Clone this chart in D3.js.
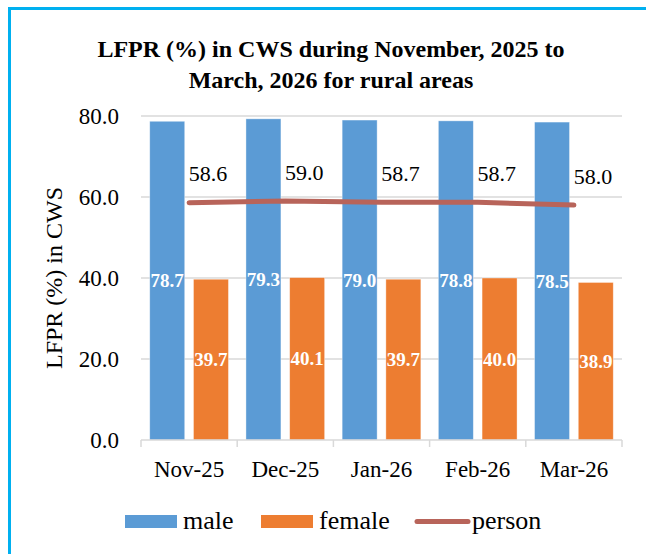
<!DOCTYPE html>
<html>
<head>
<meta charset="utf-8">
<script src="https://cdn.jsdelivr.net/npm/d3@7"></script>
<style>
  html, body { margin: 0; padding: 0; background: #fff; }
  svg { display: block; }
  svg text { font-family: "Liberation Serif", "Times New Roman", Tinos, "DejaVu Serif", serif !important; }
</style>
</head>
<body>
<script>
const categories = ["Nov-25", "Dec-25", "Jan-26", "Feb-26", "Mar-26"];
const maleValues = [78.7, 79.3, 79.0, 78.8, 78.5];
const femaleValues = [39.7, 40.1, 39.7, 40.0, 38.9];
const personValues = [58.6, 59.0, 58.7, 58.7, 58.0];
const yTicks = [0, 20, 40, 60, 80];
const seriesNames = ["male", "female", "person"];
const titleLines = ["LFPR (%) in CWS during November, 2025 to", "March, 2026 for rural areas"];
const yAxisTitle = "LFPR (%) in CWS";

const W = 646, H = 554;
const FONT = '"Liberation Serif", "Times New Roman", Tinos, "DejaVu Serif", serif';
const colors = { male: "#5b9bd5", female: "#ed7d31", person: "#b8645a" };

const svg = d3.select("body").append("svg").attr("width", W).attr("height", H)
  .attr("font-family", FONT);

// border
svg.append("rect").attr("x", 9.5).attr("y", 8.5).attr("width", W).attr("height", H)
  .attr("fill", "none").attr("stroke", "#00b0f0").attr("stroke-width", 3);

// title
svg.append("text").attr("x", 331).attr("text-anchor", "middle")
  .attr("font-weight", "bold").attr("font-size", 24).attr("font-family", FONT)
  .selectAll("tspan").data(titleLines).join("tspan")
  .attr("x", 331).attr("y", (d, i) => 57 + i * 31).text(d => d);

const plot = { left: 141, right: 622, top: 116, bottom: 440 };

const y = d3.scaleLinear().domain([0, 80]).range([plot.bottom, plot.top]);
const x0 = d3.scaleBand().domain(categories).range([plot.left, plot.right]).padding(0);
const x1 = d3.scaleBand().domain(["male", "female"]).range([0, x0.bandwidth()])
  .paddingInner(0.2).paddingOuter(0.2);

// gridlines
svg.append("g").selectAll("line").data(yTicks.filter(t => t > 0)).join("line")
  .attr("x1", plot.left).attr("x2", plot.right)
  .attr("y1", d => y(d)).attr("y2", d => y(d))
  .attr("stroke", "#d9d9d9").attr("stroke-width", 1.5);

// y axis labels
const yAxis = d3.axisLeft(y).tickValues(yTicks).tickFormat(d3.format(".1f")).tickSize(0).tickPadding(0);
const gy = svg.append("g").attr("transform", `translate(119,0)`).call(yAxis)
  .attr("font-family", FONT);
gy.select(".domain").remove();
gy.selectAll("text").attr("font-size", 23).attr("fill", "#000");

// y axis title
svg.append("text").attr("transform", `translate(62,${(plot.top + plot.bottom) / 2}) rotate(-90)`)
  .attr("text-anchor", "middle").attr("font-size", 24).attr("fill", "#000").text(yAxisTitle);

// bars
const rows = categories.map((c, i) => ({ cat: c, male: maleValues[i], female: femaleValues[i] }));
const groups = svg.append("g").selectAll("g").data(rows).join("g")
  .attr("transform", d => `translate(${x0(d.cat)},0)`);
groups.selectAll("rect").data(d => ["male", "female"].map(k => ({ key: k, v: d[k] }))).join("rect")
  .attr("x", d => x1(d.key)).attr("width", x1.bandwidth())
  .attr("y", d => y(d.v)).attr("height", d => y(0) - y(d.v))
  .attr("fill", d => colors[d.key]).attr("stroke", "#ffffff").attr("stroke-opacity", 0.5).attr("stroke-width", 0.75);
groups.selectAll("text.val").data(d => ["male", "female"].map(k => ({ key: k, v: d[k] }))).join("text")
  .attr("class", "val")
  .attr("x", d => x1(d.key) + x1.bandwidth() / 2)
  .attr("y", d => y(d.v / 2)).attr("dy", "0.35em")
  .attr("text-anchor", "middle").attr("font-weight", "bold").attr("font-size", 19)
  .attr("fill", "#fff").text(d => d.v.toFixed(1));

// x axis
const xAxisLine = svg.append("g");
xAxisLine.append("line").attr("x1", plot.left).attr("x2", plot.right)
  .attr("y1", plot.bottom).attr("y2", plot.bottom).attr("stroke", "#d9d9d9").attr("stroke-width", 1.5);
const boundaries = categories.map(c => x0(c)).concat([plot.right]);
xAxisLine.selectAll("line.tk").data(boundaries).join("line").attr("class", "tk")
  .attr("x1", d => d).attr("x2", d => d).attr("y1", plot.bottom).attr("y2", plot.bottom + 7)
  .attr("stroke", "#d9d9d9").attr("stroke-width", 1.5);
const xAxis = d3.axisBottom(x0).tickSize(0).tickPadding(0);
const gx = svg.append("g").attr("transform", `translate(0,${plot.bottom + 37})`).call(xAxis)
  .attr("font-family", FONT);
gx.select(".domain").remove();
gx.selectAll("text").attr("font-size", 23).attr("fill", "#000").attr("dy", 0);

// person line
const cx = c => x0(c) + x0.bandwidth() / 2;
const line = d3.line().x((d, i) => cx(categories[i])).y(d => y(d));
svg.append("path").datum(personValues).attr("d", line)
  .attr("fill", "none").attr("stroke", colors.person).attr("stroke-width", 5)
  .attr("stroke-linecap", "round").attr("stroke-linejoin", "round");
svg.append("g").selectAll("text").data(personValues).join("text")
  .attr("x", (d, i) => cx(categories[i]) + 19).attr("y", d => y(d) - 29).attr("dy", "0.35em")
  .attr("text-anchor", "middle").attr("font-size", 22).attr("fill", "#000")
  .text(d => d.toFixed(1));

// legend
const legend = svg.append("g");
const legendItems = [
  { name: seriesNames[0], x: 125, type: "rect" },
  { name: seriesNames[1], x: 261, type: "rect" },
  { name: seriesNames[2], x: 415, type: "line" }
];
legendItems.forEach(it => {
  if (it.type === "rect") {
    legend.append("rect").attr("x", it.x).attr("y", 515).attr("width", 52).attr("height", 13)
      .attr("fill", colors[it.name]);
    legend.append("text").attr("x", it.x + 58).attr("y", 529).attr("font-size", 26).attr("fill", "#000").text(it.name);
  } else {
    legend.append("line").attr("x1", it.x + 2).attr("x2", it.x + 53).attr("y1", 521.5).attr("y2", 521.5)
      .attr("stroke", colors.person).attr("stroke-width", 5).attr("stroke-linecap", "round");
    legend.append("text").attr("x", it.x + 57).attr("y", 529).attr("font-size", 26).attr("fill", "#000").text(it.name);
  }
});
</script>
</body>
</html>
